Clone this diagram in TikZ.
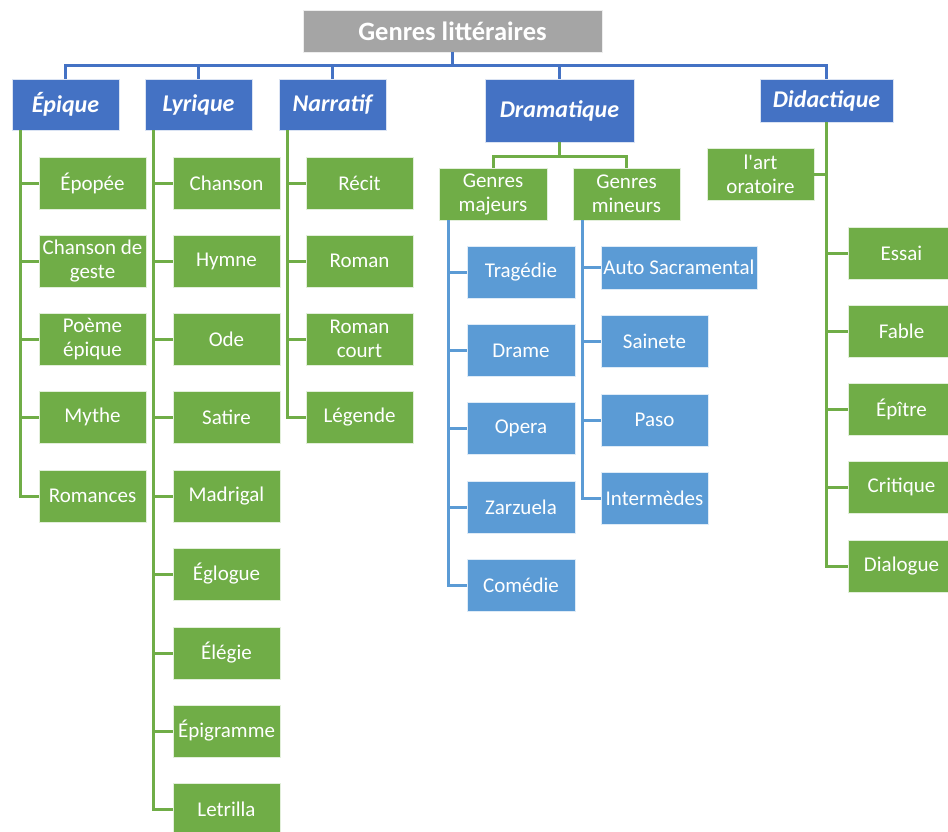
\documentclass[tikz,border=0pt]{standalone}
\usepackage{fontspec}
\setmainfont{Carlito}[Ligatures=TeXOff]
\usepackage{xcolor}
\usepackage{tikz}
\usetikzlibrary{positioning,calc}

\definecolor{titlegray}{HTML}{A5A5A5}
\definecolor{genreblue}{HTML}{4472C4}
\definecolor{subblue}{HTML}{5B9BD5}
\definecolor{leafgreen}{HTML}{70AD47}

\begin{document}
\begin{tikzpicture}[x=1pt,y=-1pt,
    box/.style={draw=white!80!#1, line width=0.8, inner sep=0, text=white, align=center},
    titlebox/.style={box=titlegray, fill=titlegray, minimum width=299, minimum height=42,
        font=\fontsize{26.5}{30}\selectfont\bfseries},
    genre/.style={box=genreblue, fill=genreblue, minimum width=107, minimum height=51,
        font=\fontsize{24}{28}\selectfont\bfseries\itshape},
    leaf/.style={box=leafgreen, fill=leafgreen, minimum width=107, minimum height=52,
        font=\fontsize{21}{24}\selectfont},
    sub/.style={box=subblue, fill=subblue, minimum width=108, minimum height=52,
        font=\fontsize{21}{24}\selectfont},
    topline/.style={draw=genreblue, line width=3},
    leafline/.style={draw=leafgreen, line width=3},
    subline/.style={draw=subblue, line width=3}]

    \useasboundingbox (0,0) rectangle (948,831);
    \clip (0,0) rectangle (948,831);

    % Title
    \node[titlebox] (title) at (452.5,31) {Genres littéraires};

    % Genres
    \node[genre] (epique) at (65.5,104.5) {Épique};
    \node[genre] (lyrique) at (198.5,104.5) {Lyrique};
    \node[genre] (narratif) at (332.5,104.5) {Narratif};
    \node[genre, minimum width=149, minimum height=63] (dramatique) at (559.5,110.5) {Dramatique};
    \node[genre, minimum width=133, minimum height=43] (didactique) at (826.5,100.5) {Didactique};

    % Epique
    \node[leaf] (epopee) at (92.5,183) {Épopée};
    \node[leaf] (geste) at (92.5,261) {Chanson de\\geste};
    \node[leaf] (poeme) at (92.5,339) {Poème\\épique};
    \node[leaf] (mythe) at (92.5,417) {Mythe};
    \node[leaf] (romances) at (92.5,496) {Romances};

    % Lyrique
    \node[leaf] (chanson) at (226.5,183) {Chanson};
    \node[leaf] (hymne) at (226.5,261) {Hymne};
    \node[leaf] (ode) at (226.5,339) {Ode};
    \node[leaf] (satire) at (226.5,417) {Satire};
    \node[leaf] (madrigal) at (226.5,496) {Madrigal};
    \node[leaf] (eglogue) at (226.5,574) {Églogue};
    \node[leaf] (elegie) at (226.5,653) {Élégie};
    \node[leaf] (epigramme) at (226.5,731) {Épigramme};
    \node[leaf] (letrilla) at (226.5,809) {Letrilla};

    % Narratif
    \node[leaf] (recit) at (359.5,183) {Récit};
    \node[leaf] (roman) at (359.5,261) {Roman};
    \node[leaf] (romancourt) at (359.5,339) {Roman\\court};
    \node[leaf] (legende) at (359.5,417) {Légende};

    % Dramatique
    \node[leaf, minimum width=108] (majeurs) at (493,194) {Genres\\majeurs};
    \node[leaf] (mineurs) at (626.5,194) {Genres\\mineurs};
    \node[sub] (tragedie) at (521,272) {Tragédie};
    \node[sub] (drame) at (521,350.5) {Drame};
    \node[sub] (opera) at (521,428.5) {Opera};
    \node[sub] (zarzuela) at (521,507) {Zarzuela};
    \node[sub] (comedie) at (521,585.5) {Comédie};
    \node[sub, minimum width=156, minimum height=43] (auto) at (679,267.5) {Auto Sacramental};
    \node[sub, minimum width=107] (sainete) at (654.5,341.5) {Sainete};
    \node[sub, minimum width=107] (paso) at (654.5,420) {Paso};
    \node[sub, minimum width=107] (intermedes) at (654.5,498) {Intermèdes};

    % Didactique
    \node[leaf] (oratoire) at (760.5,174) {l'art\\oratoire};
    \node[leaf] (essai) at (901.5,253) {Essai};
    \node[leaf] (fable) at (901.5,331) {Fable};
    \node[leaf] (epitre) at (901.5,409) {Épître};
    \node[leaf] (critique) at (901.5,487) {Critique};
    \node[leaf] (dialogue) at (901.5,566) {Dialogue};

    % Top connectors
    \draw[topline] (title.south) -- ++(0,13) coordinate (hub);
    \draw[topline] (hub) -| (epique.north);
    \draw[topline] (hub) -| (lyrique.north);
    \draw[topline] (hub) -| (narratif.north);
    \draw[topline] (hub) -| (dramatique.north);
    \draw[topline] (hub) -| (didactique.north);

    % Side lines
    \coordinate (epiqline) at ([xshift=9]epique.south west);
    \coordinate (lyrline) at ([xshift=9]lyrique.south west);
    \coordinate (narline) at ([xshift=9]narratif.south west);
    \coordinate (majline) at ([xshift=10]majeurs.south west);
    \coordinate (minline) at ([xshift=10]mineurs.south west);

    \draw[leafline] (epiqline) |- (epopee.west);
    \draw[leafline] (epiqline) |- (geste.west);
    \draw[leafline] (epiqline) |- (poeme.west);
    \draw[leafline] (epiqline) |- (mythe.west);
    \draw[leafline] (epiqline) |- (romances.west);

    \draw[leafline] (lyrline) |- (chanson.west);
    \draw[leafline] (lyrline) |- (hymne.west);
    \draw[leafline] (lyrline) |- (ode.west);
    \draw[leafline] (lyrline) |- (satire.west);
    \draw[leafline] (lyrline) |- (madrigal.west);
    \draw[leafline] (lyrline) |- (eglogue.west);
    \draw[leafline] (lyrline) |- (elegie.west);
    \draw[leafline] (lyrline) |- (epigramme.west);
    \draw[leafline] (lyrline) |- (letrilla.west);

    \draw[leafline] (narline) |- (recit.west);
    \draw[leafline] (narline) |- (roman.west);
    \draw[leafline] (narline) |- (romancourt.west);
    \draw[leafline] (narline) |- (legende.west);

    % Dramatique branches
    \draw[leafline] (dramatique.south) -- ++(0,14) coordinate (dhub);
    \draw[leafline] (dhub) -| (majeurs.north);
    \draw[leafline] (dhub) -| (mineurs.north);

    \draw[subline] (majline) |- (tragedie.west);
    \draw[subline] (majline) |- (drame.west);
    \draw[subline] (majline) |- (opera.west);
    \draw[subline] (majline) |- (zarzuela.west);
    \draw[subline] (majline) |- (comedie.west);

    \draw[subline] (minline) |- (auto.west);
    \draw[subline] (minline) |- (sainete.west);
    \draw[subline] (minline) |- (paso.west);
    \draw[subline] (minline) |- (intermedes.west);

    % Didactique branches
    \draw[leafline] (didactique.south) |- (oratoire.east);
    \draw[leafline] (didactique.south) |- (essai.west);
    \draw[leafline] (didactique.south) |- (fable.west);
    \draw[leafline] (didactique.south) |- (epitre.west);
    \draw[leafline] (didactique.south) |- (critique.west);
    \draw[leafline] (didactique.south) |- (dialogue.west);
\end{tikzpicture}
\end{document}
